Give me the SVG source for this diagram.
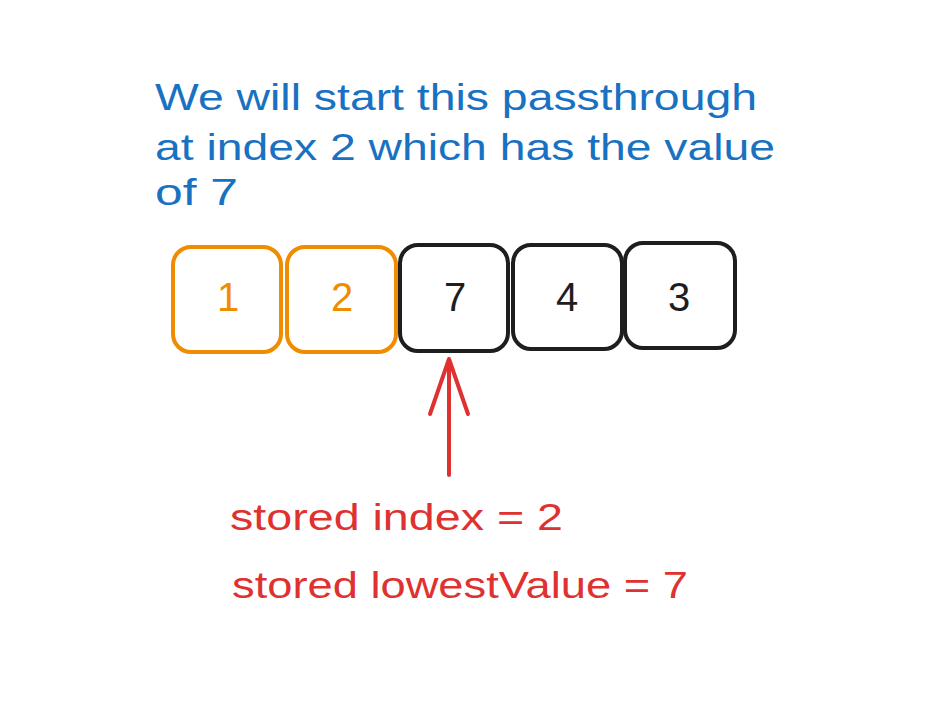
<svg xmlns="http://www.w3.org/2000/svg" width="945" height="705" viewBox="0 0 945 705">
<style>
.box{fill:none;stroke-width:4;stroke-linejoin:round}
.or{stroke:#f08c00}
.bk{stroke:#1e1e1e}
.num{font-family:"Liberation Sans",sans-serif;font-size:40px;text-anchor:middle}
.blue{font-family:"Liberation Sans",sans-serif;font-size:36px;fill:#1971c2}
.red{font-family:"Liberation Sans",sans-serif;font-size:36px;fill:#e03131}
.arr{fill:none;stroke:#e03131;stroke-width:4;stroke-linecap:round;stroke-linejoin:round}
</style>
<rect width="945" height="705" fill="#ffffff"/>
<g id="title">
<text class="blue" x="155" y="110" textLength="602" lengthAdjust="spacingAndGlyphs">We will start this passthrough</text>
<text class="blue" x="155" y="160" textLength="620" lengthAdjust="spacingAndGlyphs">at index 2 which has the value</text>
<text class="blue" x="155" y="205" textLength="83" lengthAdjust="spacingAndGlyphs">of 7</text>
</g>
<g id="cell0"><rect class="box or" x="173" y="247" width="108" height="105" rx="18"/><text class="num" x="228" y="311" fill="#f08c00">1</text></g>
<g id="cell1"><rect class="box or" x="287" y="247" width="109" height="105" rx="18"/><text class="num" x="342" y="311" fill="#f08c00">2</text></g>
<g id="cell2"><rect class="box bk" x="400" y="245" width="108" height="106" rx="18"/><text class="num" x="455" y="311" fill="#1e1e1e">7</text></g>
<g id="cell3"><rect class="box bk" x="513" y="245" width="109" height="104" rx="18"/><text class="num" x="567" y="311" fill="#1e1e1e">4</text></g>
<g id="cell4"><rect class="box bk" x="625" y="243" width="110" height="105" rx="18"/><text class="num" x="679" y="311" fill="#1e1e1e">3</text></g>
<g id="connectors">
<path class="arr" d="M449 475 L449 359 M430 414 L449 359 L468 414"/>
</g>
<g id="labels">
<text class="red" x="230" y="530" textLength="333" lengthAdjust="spacingAndGlyphs">stored index = 2</text>
<text class="red" x="232" y="598" textLength="456" lengthAdjust="spacingAndGlyphs">stored lowestValue = 7</text>
</g>
</svg>
